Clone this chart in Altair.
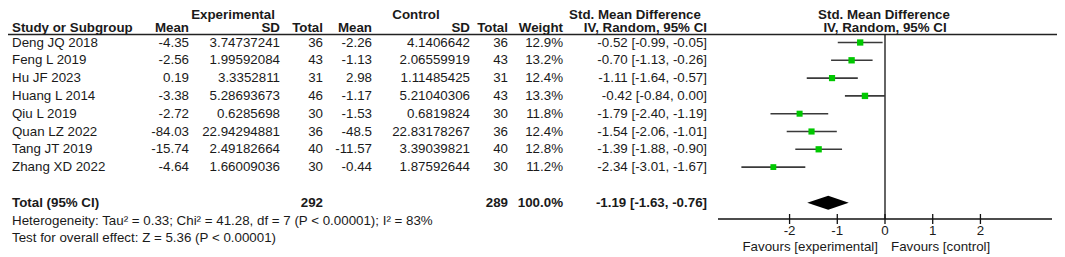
import altair as alt
import pandas as pd

# ---------------- data ----------------
studies = ["Deng JQ 2018", "Feng L 2019", "Hu JF 2023", "Huang L 2014",
           "Qiu L 2019", "Quan LZ 2022", "Tang JT 2019", "Zhang XD 2022"]
exp_mean = [-4.35, -2.56, 0.19, -3.38, -2.72, -84.03, -15.74, -4.64]
exp_sd = [3.74737241, 1.99592084, 3.3352811, 5.28693673, 0.6285698,
          22.94294881, 2.49182664, 1.66009036]
exp_n = [36, 43, 31, 46, 30, 36, 40, 30]
ctl_mean = [-2.26, -1.13, 2.98, -1.17, -1.53, -48.5, -11.57, -0.44]
ctl_sd = [4.1406642, 2.06559919, 1.11485425, 5.21040306, 0.6819824,
          22.83178267, 3.39039821, 1.87592644]
ctl_n = [36, 43, 31, 43, 30, 36, 40, 30]
weight = [12.9, 13.2, 12.4, 13.3, 11.8, 12.4, 12.8, 11.2]
smd = [-0.52, -0.70, -1.11, -0.42, -1.79, -1.54, -1.39, -2.34]
ci_lo = [-0.99, -1.13, -1.64, -0.84, -2.40, -2.06, -1.88, -3.01]
ci_hi = [-0.05, -0.26, -0.57, 0.00, -1.19, -1.01, -0.90, -1.67]

total_exp_n = 292
total_ctl_n = 289
total_weight = 100.0
total_smd = -1.19
total_lo = -1.63
total_hi = -0.76

heterogeneity = "Heterogeneity: Tau\u00b2 = 0.33; Chi\u00b2 = 41.28, df = 7 (P < 0.00001); I\u00b2 = 83%"
overall_effect = "Test for overall effect: Z = 5.36 (P < 0.00001)"

tick_values = [-2, -1, 0, 1, 2]
axis_extent = [-3.5, 3.5]

# ---------------- tables ----------------
rows = pd.DataFrame({
    "row": list(range(len(studies))),
    "study": studies,
    "em": [str(v) for v in exp_mean],
    "esd": [str(v) for v in exp_sd],
    "en": [str(v) for v in exp_n],
    "cm": [str(v) for v in ctl_mean],
    "csd": [str(v) for v in ctl_sd],
    "cn": [str(v) for v in ctl_n],
    "w": [f"{v:.1f}%" for v in weight],
    "weight": weight,
    "ci": [f"{e:.2f} [{l:.2f}, {h:.2f}]" for e, l, h in zip(smd, ci_lo, ci_hi)],
    "smd": smd,
    "lo": ci_lo,
    "hi": ci_hi,
})
TOTAL_ROW = 9
total = pd.DataFrame({
    "row": [TOTAL_ROW],
    "study": ["Total (95% CI)"],
    "en": [str(total_exp_n)],
    "cn": [str(total_ctl_n)],
    "w": [f"{total_weight:.1f}%"],
    "ci": [f"{total_smd:.2f} [{total_lo:.2f}, {total_hi:.2f}]"],
})
notes = pd.DataFrame({"row": [10, 11], "txt": [heterogeneity, overall_effect]})
HALF = 0.39
diamond = pd.DataFrame({
    "x": [total_lo, total_smd, total_hi],
    "y": [TOTAL_ROW, TOTAL_ROW - HALF, TOTAL_ROW],
    "y2": [TOTAL_ROW, TOTAL_ROW + HALF, TOTAL_ROW],
})
ticks = pd.DataFrame({"t": tick_values, "lab": [str(t) for t in tick_values]})
axis_df = pd.DataFrame({"a": [axis_extent[0]], "b": [axis_extent[1]]})
zero_df = pd.DataFrame({"v": [0]})
one = pd.DataFrame({"k": [0]})

# ---------------- style ----------------
FONT = "Liberation Sans"
FS = 13.33
COLOR = "#1a1a1a"
W, H = 1049, 249
yscale = alt.Scale(domain=[0, 10], range=[34.5, 212.5], nice=False, zero=False)
xscale = alt.Scale(domain=axis_extent, range=[710, 1044], nice=False, zero=False)

COLX = {"study": 4, "em": 181, "esd": 272, "en": 315, "cm": 364, "csd": 462,
        "cn": 500, "w": 555, "ci": 699}
COLALIGN = {"study": "left"}


def col_text(df, field, bold=False):
    return alt.Chart(df).mark_text(
        align=COLALIGN.get(field, "right"), baseline="middle", font=FONT,
        fontSize=FS, fontWeight="bold" if bold else "normal", color=COLOR
    ).encode(
        x=alt.value(COLX[field]),
        y=alt.Y("row:Q", scale=yscale, axis=None),
        text=alt.Text(f"{field}:N"),
    )


def label(txt, x, y, align, bold=False):
    return alt.Chart(pd.DataFrame({"txt": [txt]})).mark_text(
        align=align, baseline="middle", font=FONT, fontSize=FS,
        fontWeight="bold" if bold else "normal", color=COLOR
    ).encode(x=alt.value(x), y=alt.value(y), text="txt:N")


layers = []
# headers
H1, H2, HLINE = 7, 20, 26.5
layers += [
    label("Experimental", 225, H1, "center", True),
    label("Control", 408, H1, "center", True),
    label("Std. Mean Difference", 627, H1, "center", True),
    label("Std. Mean Difference", 876, H1, "center", True),
    label("Study or Subgroup", COLX["study"], H2, "left", True),
    label("Mean", COLX["em"], H2, "right", True),
    label("SD", COLX["esd"], H2, "right", True),
    label("Total", COLX["en"], H2, "right", True),
    label("Mean", COLX["cm"], H2, "right", True),
    label("SD", COLX["csd"], H2, "right", True),
    label("Total", COLX["cn"], H2, "right", True),
    label("Weight", COLX["w"], H2, "right", True),
    label("IV, Random, 95% CI", COLX["ci"], H2, "right", True),
    label("IV, Random, 95% CI", 877, H2, "center", True),
]
# header rule
layers.append(alt.Chart(one).mark_rule(color="#222222", strokeWidth=1.3).encode(
    x=alt.value(0), x2=alt.value(W), y=alt.value(HLINE)))

# study rows
for f in ["study", "em", "esd", "en", "cm", "csd", "cn", "w", "ci"]:
    layers.append(col_text(rows, f))
# total row
for f in ["study", "en", "cn", "w", "ci"]:
    layers.append(col_text(total, f, bold=True))
# notes
layers.append(alt.Chart(notes).mark_text(
    align="left", baseline="middle", font=FONT, fontSize=FS, color=COLOR
).encode(x=alt.value(COLX["study"]), y=alt.Y("row:Q", scale=yscale, axis=None),
         text="txt:N"))

# forest: zero line
layers.append(alt.Chart(zero_df).mark_rule(color="#111111", strokeWidth=1.3).encode(
    x=alt.X("v:Q", scale=xscale, axis=None), y=alt.value(HLINE), y2=alt.value(211)))
# CI lines
layers.append(alt.Chart(rows).mark_rule(color="#3a3a3a", strokeWidth=1.6).encode(
    x=alt.X("lo:Q", scale=xscale, axis=None), x2="hi:Q",
    y=alt.Y("row:Q", scale=yscale, axis=None)))
# squares
layers.append(alt.Chart(rows).mark_square(color="#00c800", opacity=1).encode(
    x=alt.X("smd:Q", scale=xscale, axis=None),
    y=alt.Y("row:Q", scale=yscale, axis=None),
    size=alt.Size("weight:Q", scale=alt.Scale(domain=[0, 15], range=[0, 46]), legend=None)))
# diamond
layers.append(alt.Chart(diamond).mark_area(orient="vertical", color="black", opacity=1).encode(
    x=alt.X("x:Q", scale=xscale, axis=None),
    y=alt.Y("y:Q", scale=yscale, axis=None), y2="y2:Q"))
# axis
layers.append(alt.Chart(axis_df).mark_rule(color="#111111", strokeWidth=1.4).encode(
    x=alt.X("a:Q", scale=xscale, axis=None), x2="b:Q", y=alt.value(211)))
layers.append(alt.Chart(ticks).mark_rule(color="#111111", strokeWidth=1.3).encode(
    x=alt.X("t:Q", scale=xscale, axis=None), y=alt.value(206), y2=alt.value(216)))
layers.append(alt.Chart(ticks).mark_text(
    align="center", baseline="middle", font=FONT, fontSize=FS, color=COLOR
).encode(x=alt.X("t:Q", scale=xscale, axis=None), y=alt.value(223), text="lab:N"))
layers.append(label("Favours [experimental]", 870, 239, "right"))
layers.append(label("Favours [control]", 883, 239, "left"))

chart = alt.layer(*layers).properties(
    width=W, height=H, padding=0,
    autosize=alt.AutoSizeParams(type="none"),
    background="white",
).configure_view(stroke=None)

chart.save("out.html", embed_options={"renderer": "svg", "actions": False})
